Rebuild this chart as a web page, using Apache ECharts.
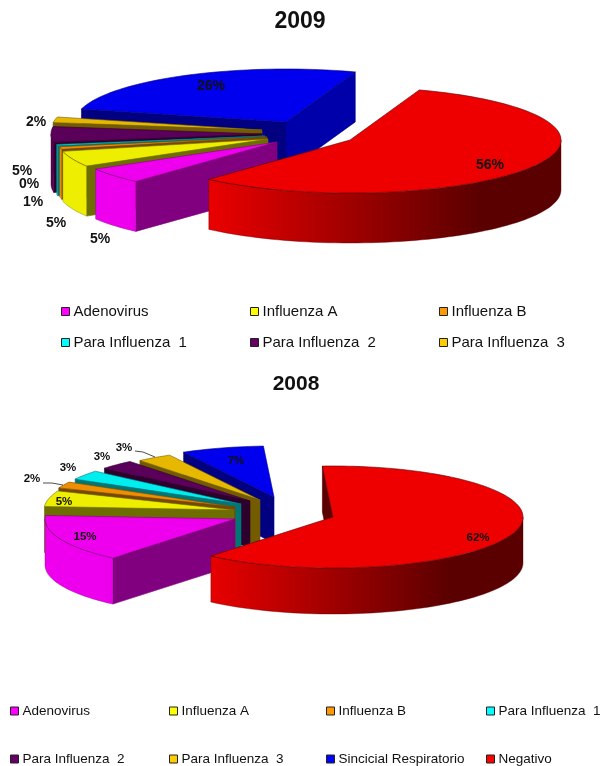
<!DOCTYPE html>
<html>
<head>
<meta charset="utf-8">
<style>html,body{margin:0;padding:0;background:#fff}#c{width:600px;height:766px}</style>
<script src="https://cdn.jsdelivr.net/npm/echarts@6/dist/echarts.min.js"></script>
</head>
<body>
<div id="c"></div>
<script>
// ---- data ----
const categories = ['Adenovirus','Influenza A','Influenza B','Para Influenza 1','Para Influenza 2','Para Influenza 3','Sincicial Respiratorio','Negativo'];
const values2009 = [4.8, 4.8, 0.8, 0.4, 4.8, 1.7, 26.4, 56.4];
const values2008 = [15, 5, 2, 3, 3, 3, 7, 62];
const legend2009 = categories.slice(0, 6);
const legend2008 = categories;

// ---- styles ----
const swatch = ['#FF00FF','#FFFF00','#FF9900','#00FFFF','#660066','#FFCC00','#0000FF','#FF0000'];
const topCol = ['#EE00EE','#EEEE00','#EE8E00','#00EEEE','#5A005A','#E6B800','#0000EE','#EE0000'];
const sideCol = ['#800080','#6E6E00','#774700','#007777','#2D002D','#735C00','#000080','#5A0000'];
const litSide = ['#800080','#6E6E00','#774700','#007777','#2D002D','#735C00','#0000AA','#5A0000'];
const drawOrder = [6,5,4,3,2,1,0,7];   // back to front
const fontFamily = 'Arial, "Liberation Sans", sans-serif';

// ---- layout of the two tilted pies ----
const pie2009 = {
  values: values2009, start: 222, rx: 211, ry: 53, depth: 50,
  centers: [[277,142],[268,139],[267,137],[265,136],[262,134],[262,130],[286,122],[350,140]],
  labels: [[100,239],[56,223],[33,202],[29,184],[22,171],[36,122],[211,86],[490,165]],
  font: 'bold 14px ' + fontFamily, leaders: {}
};
const pie2008 = {
  values: values2008, start: 220, rx: 190, ry: 51, depth: 46,
  centers: [[235,519],[234,510],[235,507],[241,504],[250,501],[260,500],[274,497],[333,517]],
  labels: [[85,537],[64,502],[32,479],[68,468],[102,457],[124,448],[236,461],[478,538]],
  font: 'bold 11.5px ' + fontFamily,
  leaders: {2: [[43,483],[52,483],[63,485]], 5: [[135,451],[143,452],[155,457]]}
};

function pt(c, p, a, z) {
  const r = a * Math.PI / 180;
  return [c[0] + p.rx * Math.sin(r), c[1] - p.ry * Math.cos(r) + (z || 0)];
}
function arc(c, p, a0, a1, z) {
  const n = Math.max(2, Math.ceil(Math.abs(a1 - a0) / 2)), out = [];
  for (let i = 0; i <= n; i++) out.push(pt(c, p, a0 + (a1 - a0) * i / n, z));
  return out;
}
function wall(c, corner, d) {
  return [c, corner, [corner[0], corner[1] + d], [c[0], c[1] + d]];
}

function sliceSeries(p, idx) {
  const total = p.values.reduce((a, b) => a + b, 0);
  let a0 = p.start;
  for (let i = 0; i < idx; i++) a0 += p.values[i] / total * 360;
  const a1 = a0 + p.values[idx] / total * 360;
  const pct = Math.round(p.values[idx] / total * 100) + '%';
  return {
    type: 'custom', name: categories[idx], coordinateSystem: 'none', silent: true,
    z: 2 + drawOrder.indexOf(idx), animation: false,
    itemStyle: {color: swatch[idx]},
    data: [[p.values[idx]]],
    renderItem: function () {
      const c = p.centers[idx], kids = [];
      const edge = {stroke: sideCol[idx], lineWidth: 0.6};
      const mid = pt(c, p, (a0 + a1) / 2);
      [[a0, 0], [a1, 1]].forEach(function (e) {
        const corner = pt(c, p, e[0]);
        const dx = corner[0] - c[0];
        if (Math.abs(dx) < 1) return;
        const lineY = c[1] + (corner[1] - c[1]) * (mid[0] - c[0]) / dx;
        if (mid[1] < lineY) {
          kids.push({type: 'polygon', shape: {points: wall(c, corner, p.depth)},
            style: Object.assign({fill: dx > 0 ? litSide[idx] : sideCol[idx]}, edge)});
        }
      });
      // outer rim: only the part of the arc facing the viewer
      for (let k = 0; k < 2; k++) {
        const lo = Math.max(a0, 90 + 360 * k), hi = Math.min(a1, 270 + 360 * k);
        if (hi > lo) {
          const pts = arc(c, p, lo, hi, 0).concat(arc(c, p, hi, lo, p.depth));
          kids.push({type: 'polygon', shape: {points: pts}, style: {
            fill: {type: 'linear', global: true, x: c[0] - 0.7 * p.rx, y: 0, x2: c[0] + 0.62 * p.rx, y2: 0,
              colorStops: [{offset: 0, color: topCol[idx]}, {offset: 1, color: sideCol[idx]}]},
            stroke: sideCol[idx], lineWidth: 0.4}});
        }
      }
      kids.push({type: 'polygon', shape: {points: [c].concat(arc(c, p, a0, a1, 0))},
        style: Object.assign({fill: topCol[idx]}, edge)});
      if (p.leaders[idx]) kids.push({type: 'polyline', shape: {points: p.leaders[idx]},
        style: {stroke: '#222', lineWidth: 0.8, fill: null}});
      kids.push({type: 'text', style: {text: pct, x: p.labels[idx][0], y: p.labels[idx][1],
        align: 'center', verticalAlign: 'middle', font: p.font, fill: '#111'}});
      return {type: 'group', children: kids};
    }
  };
}

function legendCell(name, x, y, size) {
  return {
    left: x, top: y, orient: 'horizontal', selectedMode: false, padding: 0,
    itemWidth: 8, itemHeight: 8, itemGap: 0,
    icon: 'rect',
    textStyle: {fontFamily: fontFamily, fontSize: size, color: '#111', padding: [0, 0, 0, -1]},
    formatter: function (n) { return n.replace(/ (\d)$/, '  $1'); },
    data: [{name: name, itemStyle: {color: swatch[categories.indexOf(name)], borderColor: '#222', borderWidth: 1}}]
  };
}

const cols2009 = [61, 250, 439], rows2009 = [304, 335];
const cols2008 = [10, 169, 326, 486], rows2008 = [704, 752];
const legends = [];
legend2009.forEach((n, i) => legends.push(legendCell(n, cols2009[i % 3], rows2009[Math.floor(i / 3)], 15)));
legend2008.forEach((n, i) => legends.push(legendCell(n, cols2008[i % 4], rows2008[Math.floor(i / 4)], 13.5)));

const chart = echarts.init(document.getElementById('c'), null, {renderer: 'canvas'});
chart.setOption({
  animation: false,
  backgroundColor: '#fff',
  title: [
    {text: '2009', left: 300, top: 10, textAlign: 'center', padding: 0,
      textStyle: {fontFamily: fontFamily, fontSize: 23, fontWeight: 'bold', color: '#111'}},
    {text: '2008', left: 296, top: 374, textAlign: 'center', padding: 0,
      textStyle: {fontFamily: fontFamily, fontSize: 21, fontWeight: 'bold', color: '#111'}}
  ],
  legend: legends,
  series: drawOrder.map(i => sliceSeries(pie2009, i)).concat(drawOrder.map(i => sliceSeries(pie2008, i)))
});
</script>
</body>
</html>
